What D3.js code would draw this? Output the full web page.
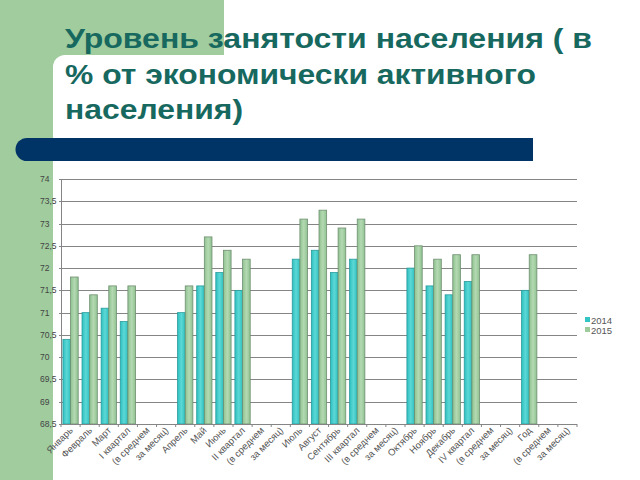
<!DOCTYPE html>
<html><head><meta charset="utf-8">
<script src="https://cdn.jsdelivr.net/npm/d3@7"></script>
<style>body{margin:0;background:#fff}svg{display:block}</style>
</head><body>
<script>
const categories = ["Январь","Февраль","Март","I квартал","(в среднем","за месяц)",
  "Апрель","Май","Июнь","II квартал","(в среднем","за месяц)",
  "Июль","Август","Сентябрь","III квартал","(в среднем","за месяц)",
  "Октябрь","Ноябрь","Декабрь","IV квартал","(в среднем","за месяц)",
  "Год","(в среднем","за месяц)"];
const values2014 = [70.4,71.0,71.1,70.8,null,null, 71.0,71.6,71.9,71.5,null,null,
  72.2,72.4,71.9,72.2,null,null, 72.0,71.6,71.4,71.7,null,null, 71.5,null,null];
const values2015 = [71.8,71.4,71.6,71.6,null,null, 71.6,72.7,72.4,72.2,null,null,
  73.1,73.3,72.9,73.1,null,null, 72.5,72.2,72.3,72.3,null,null, 72.3,null,null];
const seriesNames = ["2014","2015"];
const yTicks = [68.5,69,69.5,70,70.5,71,71.5,72,72.5,73,73.5,74];
const titleLines = ["Уровень занятости населения ( в","% от экономически активного","населения)"];

const W=640,H=480;
const svg=d3.select("body").append("svg").attr("width",W).attr("height",H);
const defs=svg.append("defs");
function grad(id,c1,c2){
  const g=defs.append("linearGradient").attr("id",id).attr("x1","0").attr("x2","1").attr("y1","0").attr("y2","0");
  g.append("stop").attr("offset","0").attr("stop-color",c1);
  g.append("stop").attr("offset","0.5").attr("stop-color",c2);
  g.append("stop").attr("offset","1").attr("stop-color",c1);
}
grad("g14","#2dc0c0","#5cd8d6");
grad("g15","#8fc291","#b4d9b2");

// background decoration
svg.append("rect").attr("x",0).attr("y",0).attr("width",53).attr("height",H).attr("fill","#a0cc9e");
svg.append("rect").attr("x",0).attr("y",0).attr("width",224).attr("height",66).attr("fill","#a0cc9e");
svg.append("rect").attr("x",53).attr("y",55).attr("width",200).attr("height",60).attr("rx",12).attr("fill","#fff");
svg.append("rect").attr("x",53).attr("y",66).attr("width",W-53).attr("height",H-66).attr("fill","#fff");
svg.append("rect").attr("x",224).attr("y",0).attr("width",W-224).attr("height",66).attr("fill","#fff");

// title
const titleWidths=[527,471,178];
const tt=svg.append("text").attr("fill","#17695f").attr("font-family","Liberation Sans, Arial, sans-serif")
  .attr("font-weight","bold").attr("font-size",28);
titleLines.forEach((l,i)=>tt.append("tspan").attr("x",65).attr("y",48+i*35.5)
  .attr("textLength",titleWidths[i]).attr("lengthAdjust","spacingAndGlyphs").text(l));

// navy bar
svg.append("path").attr("d","M27,138 H533 V161 H27 A11.5,11.5 0 0 1 27,138 Z").attr("fill","#003366");

// chart
const x0=61,x1=577,yTop=179,yBot=424;
const x=d3.scaleBand().domain(d3.range(categories.length)).range([x0,x1]).paddingInner(0).paddingOuter(0);
const y=d3.scaleLinear().domain([68.5,74]).range([yBot,yTop]);
const xs=d3.scaleBand().domain(seriesNames).range([0,x.bandwidth()]).paddingInner(0).paddingOuter(0.25);

const g=svg.append("g");
g.selectAll("line.grid").data(yTicks).join("line").attr("class","grid")
  .attr("x1",x0-2).attr("x2",x1).attr("y1",d=>Math.round(y(d))+0.5).attr("y2",d=>Math.round(y(d))+0.5)
  .attr("stroke","#858585").attr("stroke-width",1);
g.selectAll("text.yl").data(yTicks).join("text").attr("class","yl")
  .attr("x",40).attr("y",d=>y(d)+3).attr("font-family","Liberation Sans, Arial, sans-serif")
  .attr("font-size",8.5).attr("fill","#444").text(d=>String(d).replace(".",","));
g.append("line").attr("x1",x0+0.5).attr("x2",x0+0.5).attr("y1",yTop).attr("y2",yBot).attr("stroke","#858585");
g.selectAll("line.xt").data(d3.range(categories.length+1)).join("line").attr("class","xt")
  .attr("x1",d=>x0+d*x.bandwidth()).attr("x2",d=>x0+d*x.bandwidth())
  .attr("y1",yBot).attr("y2",yBot+3).attr("stroke","#858585");

const data=[];
categories.forEach((c,i)=>{
  if(values2014[i]!=null)data.push({i,s:"2014",v:values2014[i]});
  if(values2015[i]!=null)data.push({i,s:"2015",v:values2015[i]});
});
g.selectAll("rect.bar").data(data).join("rect").attr("class","bar")
  .attr("x",d=>x(d.i)+xs(d.s)).attr("width",xs.bandwidth())
  .attr("y",d=>y(d.v)).attr("height",d=>yBot-y(d.v))
  .attr("fill",d=>d.s==="2014"?"url(#g14)":"url(#g15)")
  .attr("stroke",d=>d.s==="2014"?"#2a9c9c":"#6f8f70").attr("stroke-width",0.8);

g.append("line").attr("x1",x0).attr("x2",x1).attr("y1",yBot+0.5).attr("y2",yBot+0.5).attr("stroke","#858585");

g.selectAll("text.xl").data(categories).join("text").attr("class","xl")
  .attr("transform",(d,i)=>`translate(${x(i)+x.bandwidth()/2+3},${yBot+7}) rotate(-45)`)
  .attr("text-anchor","end").attr("font-family","Liberation Sans, Arial, sans-serif")
  .attr("font-size",9.5).attr("fill","#555").text(d=>d);

const lg=svg.append("g");
seriesNames.forEach((s,k)=>{
  lg.append("rect").attr("x",585).attr("y",317+k*10).attr("width",5).attr("height",5)
    .attr("fill",k===0?"#33c4c4":"#9dcb9b");
  lg.append("text").attr("x",591).attr("y",323.5+k*10).attr("font-family","Liberation Sans, Arial, sans-serif")
    .attr("font-size",9.5).attr("fill","#555").text(s);
});
</script>
</body></html>
